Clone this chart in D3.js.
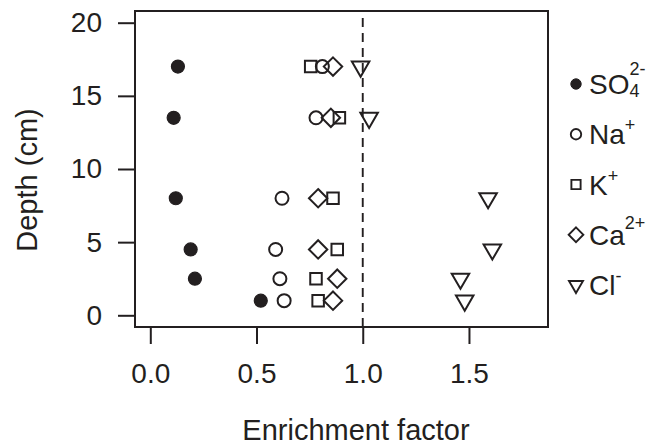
<!DOCTYPE html>
<html><head><meta charset="utf-8">
<script src="https://cdn.jsdelivr.net/npm/d3@7"></script>
<style>
body{margin:0;background:#fff}
svg{display:block}
text{font-family:"Liberation Sans",Arial,Helvetica,sans-serif;fill:#231f20}
</style>
</head><body>
<svg id="c" width="652" height="447"></svg>
<script>
// ---- data ----
const depths = [17, 13.5, 8, 4.5, 2.5, 1];
const so4 = [0.13, 0.11, 0.12, 0.19, 0.21, 0.52];
const na  = [0.81, 0.78, 0.62, 0.59, 0.61, 0.63];
const kk  = [0.755, 0.89, 0.86, 0.88, 0.78, 0.79];
const ca  = [0.86, 0.85, 0.79, 0.79, 0.88, 0.86];
const cl  = [0.99, 1.03, 1.59, 1.61, 1.46, 1.48];
const xTicks = [0, 0.5, 1.0, 1.5];
const yTicks = [0, 5, 10, 15, 20];
const refLine = 1.0;
const seriesNames = ["SO4", "Na", "K", "Ca", "Cl"];
const seriesLabels = [
  {base: "SO", sup: "2-", sub: "4"},
  {base: "Na", sup: "+"},
  {base: "K", sup: "+"},
  {base: "Ca", sup: "2+"},
  {base: "Cl", sup: "-"}
];

// ---- layout ----
const ink = "#231f20";
const L = 135, R = 548, T = 11, B = 327;
const svg = d3.select("#c");
const x = d3.scaleLinear().domain([-0.072, 1.872]).range([L, R]);
const y = d3.scaleLinear().domain([-0.8, 20.8]).range([B, T]);

function shape(type, r) {
  const p = d3.path();
  if (type === "filled" || type === "circle") {
    p.moveTo(r, 0); p.arc(0, 0, r, 0, 2 * Math.PI); p.closePath();
  } else if (type === "square") {
    const h = 0.886 * r;
    p.rect(-h, -h, 2 * h, 2 * h);
  } else if (type === "diamond") {
    const d = 1.414 * r;
    p.moveTo(0, -d); p.lineTo(d, 0); p.lineTo(0, d); p.lineTo(-d, 0); p.closePath();
  } else if (type === "triangle") {
    const rt = 1.555 * r, xc = 1.347 * r, yc = 0.778 * r;
    p.moveTo(0, rt); p.lineTo(xc, -yc); p.lineTo(-xc, -yc); p.closePath();
  }
  return p.toString();
}
const types = ["filled", "circle", "square", "diamond", "triangle"];
const values = [so4, na, kk, ca, cl];

// box
svg.append("rect").attr("x", L).attr("y", T).attr("width", R - L).attr("height", B - T)
  .attr("fill", "none").attr("stroke", ink).attr("stroke-width", 2);

// axes
const fs = 28;
const gy = svg.append("g").attr("transform", `translate(${L},0)`)
  .call(d3.axisLeft(y).tickValues(yTicks).tickSize(17).tickPadding(16).tickFormat(d3.format("d")));
const gx = svg.append("g").attr("transform", `translate(0,${B})`)
  .call(d3.axisBottom(x).tickValues(xTicks).tickSize(17).tickPadding(19).tickFormat(d3.format(".1f")));
[gx, gy].forEach(g => {
  g.select(".domain").remove();
  g.selectAll(".tick line").attr("stroke", ink).attr("stroke-width", 2);
  g.selectAll(".tick text").attr("font-size", fs).attr("fill", ink)
    .style("font-family", '"Liberation Sans",Arial,sans-serif');
});

// axis titles
svg.append("text").attr("x", 356).attr("y", 440).attr("text-anchor", "middle")
  .attr("font-size", 29).text("Enrichment factor");
svg.append("text").attr("transform", "translate(37,180) rotate(-90)").attr("text-anchor", "middle")
  .attr("font-size", 29).text("Depth (cm)");

// reference dashed line (drawn bottom to top)
svg.append("line").attr("x1", x(refLine)).attr("x2", x(refLine)).attr("y1", B).attr("y2", T)
  .attr("stroke", ink).attr("stroke-width", 1.9).attr("stroke-dasharray", "9,6");

// points
const plotR = 6.5;
types.forEach((t, i) => {
  svg.append("g").selectAll("path").data(depths.map((d, j) => ({d, v: values[i][j]})))
    .join("path")
    .attr("transform", p => `translate(${x(p.v)},${y(p.d)})`)
    .attr("d", shape(t, plotR))
    .attr("fill", t === "filled" ? ink : "none")
    .attr("stroke", ink).attr("stroke-width", t === "filled" ? 1.2 : 2)
    .attr("stroke-linejoin", "miter");
});

// legend
const legY = d3.scalePoint().domain(seriesNames).range([84, 285]);
const legR = 5.2, mx = 576, tx = 589, lfs = 28, sfs = 18;
seriesNames.forEach((n, i) => {
  const cy = legY(n);
  const t = types[i];
  svg.append("path").attr("transform", `translate(${mx},${cy})`).attr("d", shape(t, legR))
    .attr("fill", t === "filled" ? ink : "none").attr("stroke", ink)
    .attr("stroke-width", t === "filled" ? 1 : 1.9);
  const lab = seriesLabels[i];
  const base = cy + 10;
  const tt = svg.append("text").attr("x", tx).attr("y", base).attr("font-size", lfs).text(lab.base);
  const w = tt.node().getComputedTextLength();
  if (lab.sub) {
    svg.append("text").attr("x", tx + w).attr("y", base + 3).attr("font-size", sfs).text(lab.sub);
  }
  if (lab.sup) {
    const shift = lab.sub ? 19 : (lab.sup.length > 1 ? 16 : 13);
    svg.append("text").attr("x", tx + w).attr("y", base - shift).attr("font-size", sfs).text(lab.sup);
  }
});
</script>
</body></html>
